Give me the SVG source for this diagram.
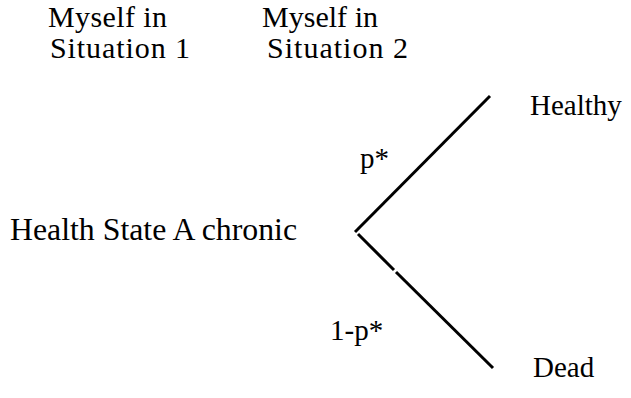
<svg xmlns="http://www.w3.org/2000/svg" width="631" height="398" viewBox="0 0 631 398">
<style>
text{font-family:"Liberation Serif",Tinos,"Times New Roman","DejaVu Serif",serif;font-size:29px;fill:#000}
.hd{font-size:30px}
.rt{font-size:31.8px}
.ln{stroke:#000;stroke-width:3;fill:none}
</style>
<rect width="631" height="398" fill="#fff"/>
<g id="header1"><text class="hd" x="48" y="27" textLength="119">Myself in</text><text class="hd" x="50" y="58" textLength="140">Situation  1</text></g>
<g id="header2"><text class="hd" x="262" y="27" textLength="116">Myself in</text><text class="hd" x="267" y="58" textLength="141">Situation 2</text></g>
<g id="root"><text class="rt" x="10" y="240" textLength="287">Health State A chronic</text></g>
<g id="healthy"><text x="530" y="115">Healthy</text></g>
<g id="dead"><text x="533" y="377">Dead</text></g>
<g id="connectors">
<line class="ln" x1="355" y1="232" x2="490" y2="96"/>
<line class="ln" x1="358" y1="234" x2="394" y2="270"/>
<line class="ln" x1="396" y1="272" x2="493" y2="368"/>
<text x="360" y="168">p*</text>
<text x="330" y="340">1-p*</text>
</g>
</svg>
